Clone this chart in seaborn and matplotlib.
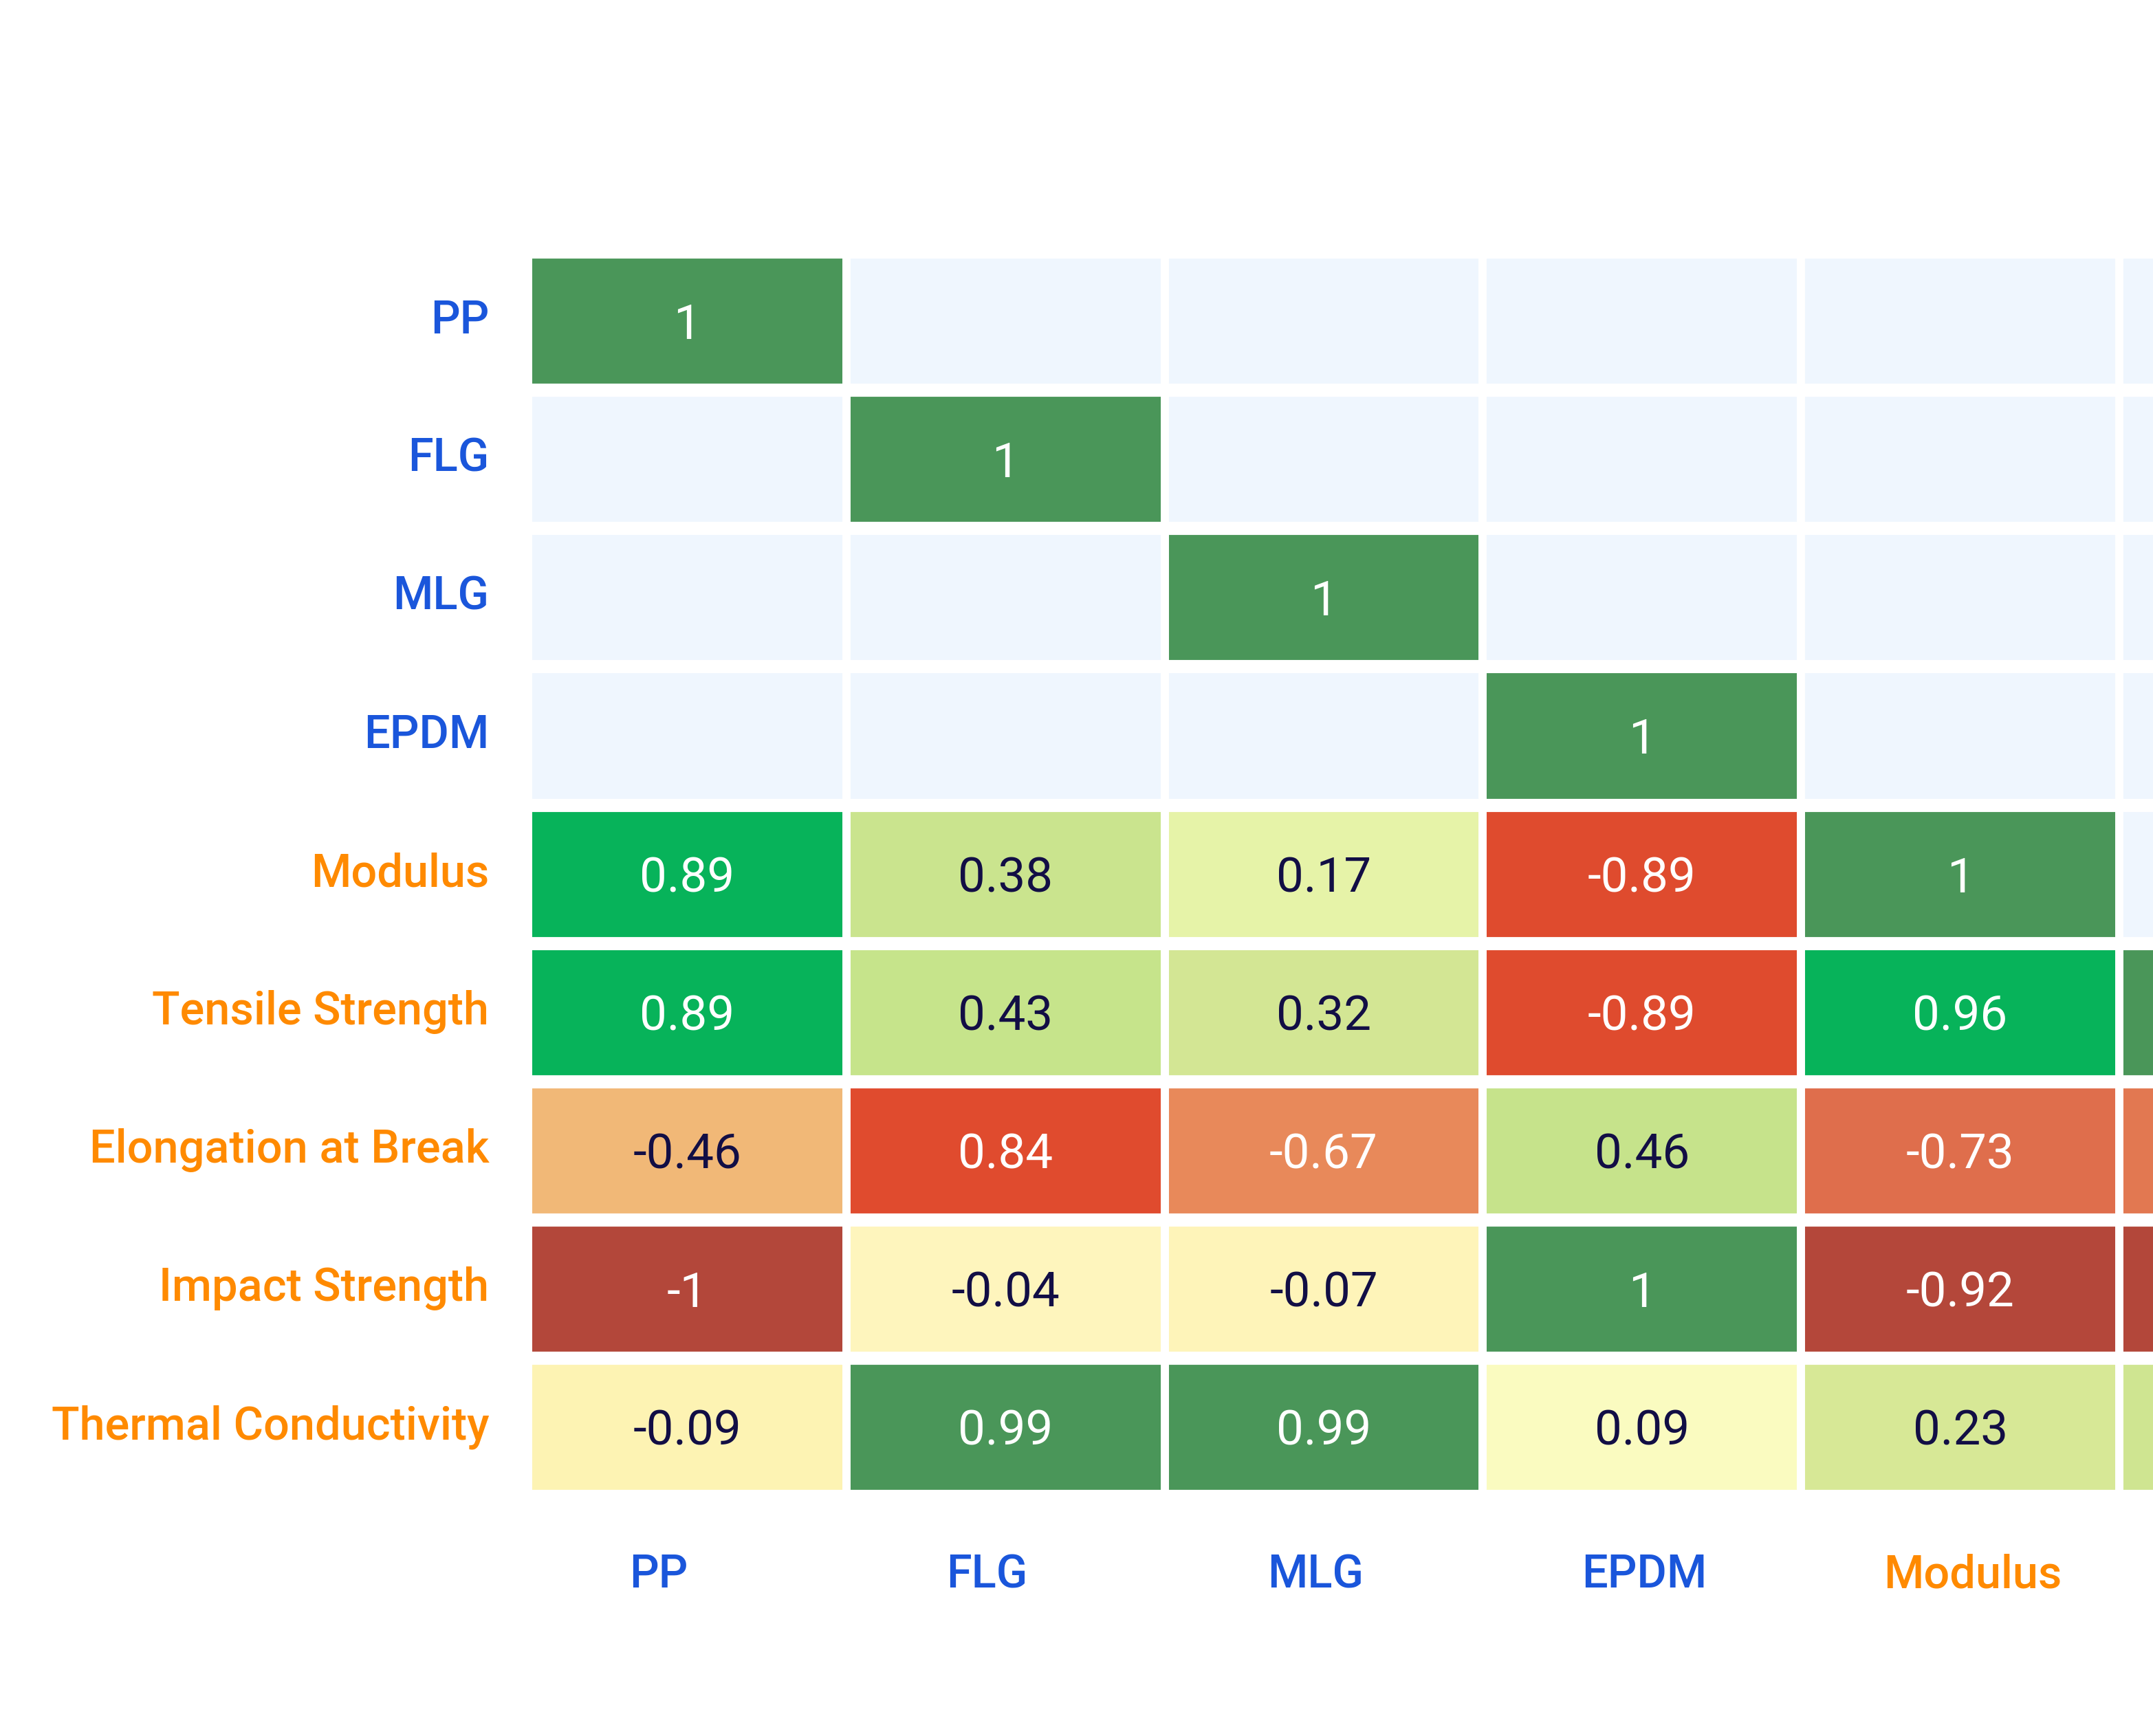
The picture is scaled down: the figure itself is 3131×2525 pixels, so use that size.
import numpy as np
import pandas as pd
import seaborn as sns
import matplotlib.pyplot as plt
from matplotlib.colors import LinearSegmentedColormap, ListedColormap

# === data ===
labels = ["PP", "FLG", "MLG", "EPDM", "Modulus", "Tensile Strength",
          "Elongation at Break", "Impact Strength", "Thermal Conductivity"]
n_inputs = 4  # first 4 are composition inputs (blue), rest are properties (orange)

# lower triangle, None = hidden cell
corr_rows = [
    [1],
    [None, 1],
    [None, None, 1],
    [None, None, None, 1],
    [0.89, 0.38, 0.17, -0.89, 1],
    [0.89, 0.43, 0.32, -0.89, 0.96, 1],
    [-0.46, 0.84, -0.67, 0.46, -0.73, -0.71, 1],
    [-1, -0.04, -0.07, 1, -0.92, -0.95, 0.52, 1],
    [-0.09, 0.99, 0.99, 0.09, 0.23, 0.35, -0.62, -0.05, 1],
]

# FLG / Elongation cell reads 0.84 but is shaded red in the original
shade_override = {(6, 1): -0.84}

# colour anchors (value, colour)
anchors = [
    (-1.00, "#B3473A"), (-0.905, "#B4473A"), (-0.89, "#E04B2E"), (-0.80, "#E04B2E"),
    (-0.73, "#DF704D"), (-0.67, "#E8895A"), (-0.46, "#F1B877"), (-0.09, "#FDF3B3"),
    (-0.05, "#FEF5BD"), (0.09, "#FAFBC0"), (0.17, "#E6F3A8"), (0.23, "#D7E896"),
    (0.32, "#D3E694"), (0.40, "#C7E48C"), (0.50, "#C5E38A"), (0.89, "#07B35A"),
    (0.97, "#07B35A"), (0.98, "#4A9659"), (1.00, "#4A9659"),
]

input_color = "#1A56DB"
output_color = "#FF8A00"
dark_text = "#120E45"
empty_cell = "#EFF6FE"

# === build matrices ===
n = len(labels)
vals = np.full((n, n), np.nan)
for i, row in enumerate(corr_rows):
    for j, v in enumerate(row):
        if v is not None:
            vals[i, j] = v

shade = vals.copy()
for (i, j), v in shade_override.items():
    shade[i, j] = v

df = pd.DataFrame(shade, index=labels, columns=labels)
mask = np.isnan(shade)
annot = np.where(mask, "", np.vectorize(lambda v: f"{v:g}")(vals))

cmap = LinearSegmentedColormap.from_list("corr", [((v + 1) / 2, c) for v, c in anchors])

plt.rcParams['font.family'] = ['Roboto', 'DejaVu Sans']

# === plot ===
fig = plt.figure(figsize=(15.655, 12.625), dpi=200)
ax = fig.add_axes([0.2453, 0.1382, 1.3303, 0.7168])

# background layer for the hidden cells
sns.heatmap(np.zeros((n, n)), cmap=ListedColormap([empty_cell]), cbar=False, ax=ax)
sns.heatmap(df, mask=mask, annot=annot, fmt="", cmap=cmap, vmin=-1, vmax=1,
            cbar=False, ax=ax, annot_kws={"fontsize": 25.5, "va": "center_baseline"})

# white gaps between cells (taller gaps between rows than columns)
ax.hlines(np.arange(n + 1), 0, n, color="white", lw=6.9)
ax.vlines(np.arange(n + 1), 0, n, color="white", lw=4.3)

for t in ax.texts:
    v = float(t.get_text())
    t.set_color("white" if abs(v) > 0.5 else dark_text)

# x labels in the original sit on a slightly wider spacing than the cells
ax.set_xticks(0.409 + 1.0325 * np.arange(n))
ax.set_yticks(np.arange(n) + 0.5)
ax.set_xticklabels(labels, rotation=0, fontsize=24, fontweight="medium")
ax.set_yticklabels(labels, rotation=0, fontsize=24, fontweight="medium")
for k, (tx, ty) in enumerate(zip(ax.get_xticklabels(), ax.get_yticklabels())):
    c = input_color if k < n_inputs else output_color
    tx.set_color(c)
    ty.set_color(c)
    # the original canvas cuts off everything right of "Modulus"
    if k > 4:
        tx.set_visible(False)

ax.tick_params(axis="x", length=0, pad=30)
ax.tick_params(axis="y", length=0, pad=20.5)
ax.set_xlabel("")
ax.set_ylabel("")

fig.savefig("out.png", dpi=200, facecolor="white")
